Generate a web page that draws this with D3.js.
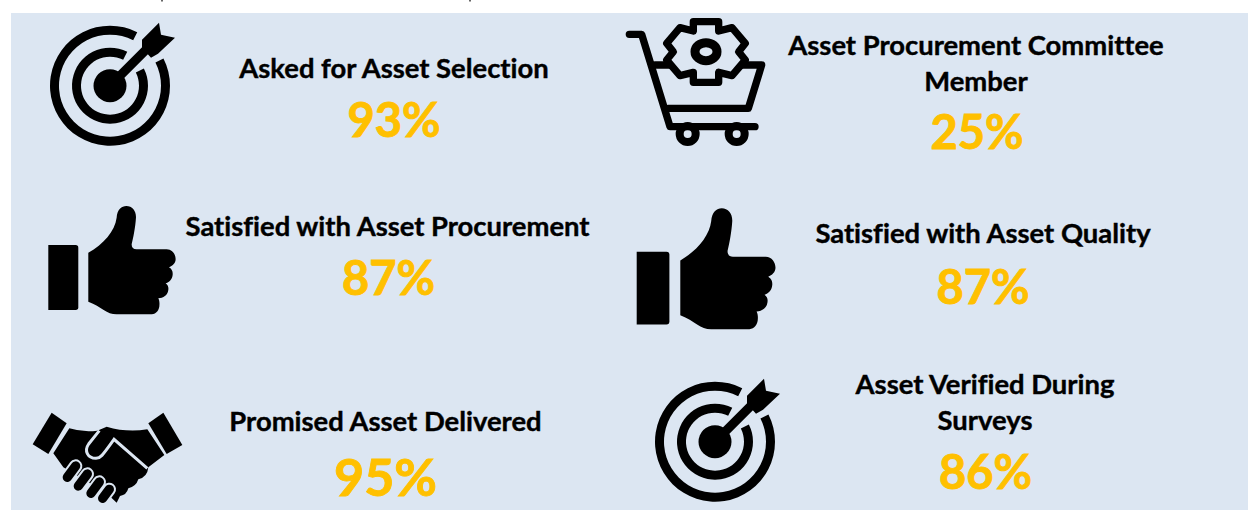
<!DOCTYPE html>
<html>
<head>
<meta charset="utf-8">
<script src="https://cdn.jsdelivr.net/npm/d3@7"></script>
<style>
html, body { margin: 0; padding: 0; background: #fff; overflow: hidden; }
svg { display: block; }
text { font-family: Lato, "Open Sans", sans-serif; font-weight: 700; text-anchor: middle; font-variant-ligatures: none; }
</style>
</head>
<body>
<svg id="myGraph" width="1248" height="510"></svg>
<script>
// chart values
var labels = [
    ["Asked for Asset Selection"],
    ["Asset Procurement Committee", "Member"],
    ["Satisfied with Asset Procurement"],
    ["Satisfied with Asset Quality"],
    ["Promised Asset Delivered"],
    ["Asset Verified During", "Surveys"]
];
var values = [93, 25, 87, 87, 95, 86];

// where each item sits: label centre, first baseline, value centre, value baseline, value size
var labelX = [394, 976, 387.5, 983, 385.5, 985];
var labelY = [78, 55, 236, 243, 431, 394];
var valueX = [394, 977, 388.5, 983, 385.5, 985.5];
var valueY = [137, 149, 295, 304, 496, 489];
var valueSize = [47, 47, 47, 47, 52, 47];

var panelColor = "#dce6f2";
var svg = d3.select("#myGraph");

svg.append("rect")
    .attr("x", 11).attr("y", 13)
    .attr("width", 1237).attr("height", 497)
    .attr("fill", panelColor);

// descenders of a cut off line above the panel
svg.selectAll("rect.speck")
    .data([161, 469])
    .enter().append("rect")
    .attr("class", "speck")
    .attr("x", function(d){ return d; })
    .attr("y", 0).attr("width", 2).attr("height", 1.5)
    .attr("fill", "#666");

var items = svg.selectAll("g.item")
    .data(values)
    .enter().append("g")
    .attr("class", "item");

items.selectAll("text.label")
    .data(function(d, i){
        return labels[i].map(function(s, k){ return {s: s, k: k, i: i}; });
    })
    .enter().append("text")
    .attr("class", "label")
    .attr("x", function(d){ return labelX[d.i]; })
    .attr("y", function(d){ return labelY[d.i] + d.k * 36; })
    .attr("font-size", 27.4)
    .attr("fill", "#000")
    .attr("stroke", "#000").attr("stroke-width", 0.4)
    .text(function(d){ return d.s; });

items.append("text")
    .attr("class", "value")
    .attr("x", function(d, i){ return valueX[i]; })
    .attr("y", function(d, i){ return valueY[i]; })
    .attr("font-size", function(d, i){ return valueSize[i]; })
    .attr("fill", "#ffc000")
    .attr("stroke", "#ffc000").attr("stroke-width", 0.9)
    .text(function(d){ return d + "%"; });

// icons are traced in the coordinates of a 3x crop, so they scale by 1/3
function target(x, y){
    var g = svg.append("g").attr("transform", "translate(" + x + "," + y + ")");
    var rad = Math.PI / 180;
    var arc = d3.arc().startAngle(63 * rad).endAngle(387 * rad);
    g.append("path").attr("d", arc({innerRadius: 51, outerRadius: 60}));
    g.append("path").attr("d", arc({innerRadius: 29, outerRadius: 38}));
    g.append("circle").attr("r", 16.5);
    g.append("path")
        .attr("d", d3.line()([[0, 0], [40, -40]]))
        .attr("stroke", "#000").attr("stroke-width", 9);
    g.append("path")
        .attr("d", d3.line().curve(d3.curveLinearClosed)([[49, -63], [51, -51], [65, -48], [48, -32], [41, -28], [32, -38], [32, -46]]));
}

function thumb(x, y, sx, sy){
    var g = svg.append("g")
        .attr("transform", "translate(" + x + "," + y + ") scale(" + (sx / 3) + "," + (sy / 3) + ")");
    g.append("path").attr("d", "M0,117 H82 Q90,117 90,125 V304 Q90,312 82,312 H0 Z");
    g.append("path").attr("d",
        "M120,140 C165,115 200,75 205,35 C207,10 220,0 234,0 C252,0 264,15 263,35 " +
        "C261,65 255,95 250,115 C250,125 255,130 265,130 H355 C372,130 382,145 382,160 " +
        "C382,172 372,180 362,184 C372,190 374,198 373,207 C372,220 362,230 352,232 " +
        "C360,238 361,245 360,252 C358,268 345,276 330,277 C334,285 334,292 333,302 " +
        "C330,318 320,325 305,325 H205 C175,325 160,302 120,287 Z");
}

function cart(x, y){
    var g = svg.append("g")
        .attr("transform", "translate(" + x + "," + y + ") scale(" + (1 / 3) + ")")
        .attr("fill", "none").attr("stroke", "#000")
        .attr("stroke-width", 22).attr("stroke-linecap", "round").attr("stroke-linejoin", "round");
    g.append("path").attr("d", "M88,103 H125 L210,380 H465");
    g.append("path").attr("d", "M165,195 H485 L445,325 H205");
    [263, 410].forEach(function(cx){
        g.append("circle").attr("cx", cx).attr("cy", 402).attr("r", 24).attr("stroke-width", 24);
    });
    // gear, 6 teeth
    var closed = d3.line().curve(d3.curveLinearClosed);
    var gearPts = [[-38, -90], [38, -90], [38, -62], [78, -72], [118, -25], [98, 0], [118, 25], [78, 72], [38, 62],
        [38, 92], [-38, 92], [-38, 62], [-78, 72], [-118, 25], [-98, 0], [-118, -25], [-78, -72], [-38, -62]];
    var gear = g.append("g").attr("transform", "translate(318,155)");
    gear.append("path")
        .attr("d", closed(gearPts))
        .attr("fill", panelColor);
    gear.append("ellipse").attr("rx", 33).attr("ry", 27).attr("stroke-width", 27);
}

function handshake(x, y){
    var g = svg.append("g")
        .attr("transform", "translate(" + x + "," + y + ") scale(" + (1 / 3) + ")");
    var closed = d3.line().curve(d3.curveLinearClosed);
    g.append("path").attr("d", closed([[125, 68], [170, 100], [115, 192], [68, 163]]));
    g.append("path").attr("d", closed([[460, 68], [517, 165], [470, 192], [415, 100]]));
    g.append("path").attr("d",
        "M178,115 Q220,128 262,122 L290,110 Q350,128 412,118 L463,195 L415,232 " +
        "Q412,262 385,268 Q378,290 355,295 Q350,315 330,318 L320,338 L290,310 L160,232 L130,190 Z");
    g.append("path")
        .attr("d", "M268,122 L236,162 C222,182 232,204 258,205 C272,205 278,195 312,148 L412,235")
        .attr("fill", "none").attr("stroke", panelColor).attr("stroke-width", 9);
    var fingers = [[[197, 228], [172, 262]], [[232, 252], [205, 288]], [[268, 276], [243, 310]], [[298, 298], [278, 325]]];
    var line = d3.line();
    [[40, panelColor], [28, "#000"]].forEach(function(s){
        g.selectAll(null).data(fingers).enter().append("path")
            .attr("d", function(d){ return line(d); })
            .attr("stroke", s[1]).attr("stroke-width", s[0]).attr("stroke-linecap", "round");
    });
}

target(110, 85.7);
target(715, 441.7);
cart(600, 0);
thumb(48.3, 206, 1, 1);
thumb(636.7, 208.3, 1.09, 1.117);
handshake(10, 390);
</script>
</body>
</html>
